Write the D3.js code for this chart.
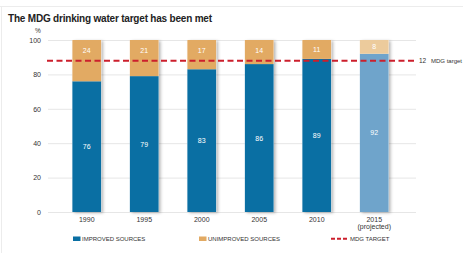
<!DOCTYPE html>
<html><head><meta charset="utf-8">
<script src="https://cdn.jsdelivr.net/npm/d3@7"></script>
<style>
html,body{margin:0;padding:0;background:#fff;}
svg{display:block;font-family:"Liberation Sans Narrow","Liberation Sans",Arial,sans-serif;}
</style></head><body>
<svg id="c" width="463" height="253"></svg>
<script>
const years = ["1990","1995","2000","2005","2010","2015"];
const improved = [76,79,83,86,89,92];
const unimproved = [24,21,17,14,11,8];
const target = 88;
const yTicks = [0,20,40,60,80,100];

const svg = d3.select("#c");
const W = 463, H = 253;

// frame lines
svg.append("line").attr("x1",0).attr("x2",W).attr("y1",6.5).attr("y2",6.5).attr("stroke","#ececec");
svg.append("line").attr("x1",1.5).attr("x2",1.5).attr("y1",6).attr("y2",H).attr("stroke","#ececec");

svg.append("text").attr("x",8).attr("y",22)
  .attr("font-weight","bold").attr("font-size",10).attr("letter-spacing",-0.2).attr("fill","#222")
  .text("The MDG drinking water target has been met");

const x = d3.scaleBand().domain(years).range([58,403]).paddingInner(0.5).paddingOuter(0.25);
const y = d3.scaleLinear().domain([0,100]).range([212,40]);

// grid
svg.append("g").selectAll("line").data(yTicks).join("line")
  .attr("x1",48).attr("x2",416).attr("y1",d=>y(d)+0.5).attr("y2",d=>y(d)+0.5)
  .attr("stroke","#e6e6e6").attr("stroke-width",1);

// y axis labels
const yAxis = d3.axisLeft(y).tickValues(yTicks).tickSize(0).tickPadding(0);
const ga = svg.append("g").attr("transform","translate(41,0)").call(yAxis);
ga.select(".domain").remove();
ga.selectAll("text").attr("font-size",7).attr("fill","#333").attr("font-family","inherit");
svg.append("text").attr("x",38).attr("y",33).attr("font-size",6.5).attr("fill","#333").attr("text-anchor","middle").text("%");

// shadow
const defs = svg.append("defs");
const f = defs.append("filter").attr("id","sh").attr("x","-20%").attr("y","-5%").attr("width","160%").attr("height","115%");
f.append("feDropShadow").attr("dx",2).attr("dy",1).attr("stdDeviation",1.6).attr("flood-color","#000").attr("flood-opacity",0.28);

const data = years.map((yr,i)=>({yr,imp:improved[i],un:unimproved[i],proj:i===years.length-1}));
const bars = svg.append("g").selectAll("g").data(data).join("g");
bars.append("rect").attr("x",d=>x(d.yr)).attr("width",x.bandwidth())
  .attr("y",y(100)).attr("height",y(0)-y(100)).attr("fill","#fff").attr("filter","url(#sh)");
bars.append("rect").attr("x",d=>x(d.yr)).attr("width",x.bandwidth())
  .attr("y",d=>y(d.imp)).attr("height",d=>y(0)-y(d.imp)).attr("fill",d=>d.proj?"#6fa4cb":"#0a6fa3");
bars.append("rect").attr("x",d=>x(d.yr)).attr("width",x.bandwidth())
  .attr("y",d=>y(d.imp+d.un)).attr("height",d=>y(d.imp)-y(d.imp+d.un)).attr("fill",d=>d.proj?"#eccb9c":"#e2aa63");
bars.append("text").attr("x",d=>x(d.yr)+x.bandwidth()/2).attr("y",d=>y(d.imp/2)+2.5)
  .attr("text-anchor","middle").attr("font-size",7).attr("fill","#fff").text(d=>d.imp);
bars.append("text").attr("x",d=>x(d.yr)+x.bandwidth()/2)
  .attr("y",d=>Math.min(y(d.imp+d.un/2), y(100)+10)+2.5)
  .attr("text-anchor","middle").attr("font-size",7).attr("fill","#fff").text(d=>d.un);

// x labels
const gx = svg.append("g");
gx.selectAll("text.yr").data(data).join("text").attr("class","yr")
  .attr("x",d=>x(d.yr)+x.bandwidth()/2).attr("y",222).attr("text-anchor","middle")
  .attr("font-size",7).attr("fill","#333").text(d=>d.yr);
gx.append("text").attr("x",x("2015")+x.bandwidth()/2).attr("y",229).attr("text-anchor","middle")
  .attr("font-size",7).attr("fill","#333").text("(projected)");

// target line
svg.append("line").attr("x1",47).attr("x2",415).attr("y1",y(target)).attr("y2",y(target))
  .attr("stroke","#cc1f2c").attr("stroke-width",2).attr("stroke-dasharray","6,3.5");
svg.append("text").attr("x",419).attr("y",y(target)+2.5).attr("font-size",6.5).attr("fill","#333").text("12");
svg.append("text").attr("x",431).attr("y",y(target)+2.5).attr("font-size",6).attr("fill","#333").text("MDG target");

// legend
const lg = svg.append("g");
lg.append("rect").attr("x",73).attr("y",236.5).attr("width",7.5).attr("height",4.5).attr("fill","#0a6fa3");
lg.append("text").attr("x",82).attr("y",241).attr("font-size",6).attr("fill","#333").text("IMPROVED SOURCES");
lg.append("rect").attr("x",199).attr("y",236.5).attr("width",7.5).attr("height",4.5).attr("fill","#e2aa63");
lg.append("text").attr("x",208).attr("y",241).attr("font-size",6).attr("fill","#333").text("UNIMPROVED SOURCES");
lg.append("line").attr("x1",331).attr("x2",348).attr("y1",238.8).attr("y2",238.8)
  .attr("stroke","#cc1f2c").attr("stroke-width",2).attr("stroke-dasharray","4,2");
lg.append("text").attr("x",350).attr("y",241).attr("font-size",6).attr("fill","#333").text("MDG TARGET");
</script></body></html>
